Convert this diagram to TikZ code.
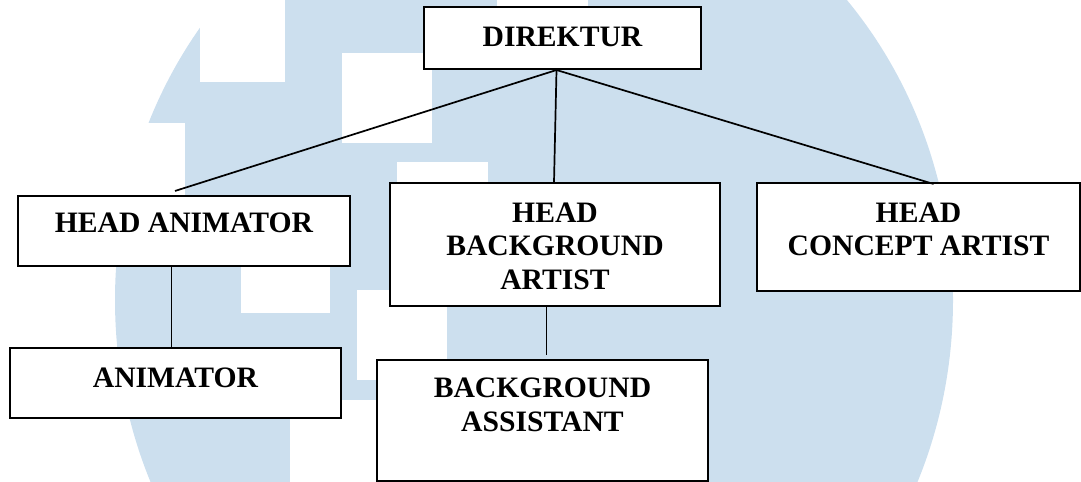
\documentclass[tikz,border=0pt]{standalone}
\usepackage{fontspec}
\setmainfont{Liberation Serif}
\usepackage{tikz}
\definecolor{umnblue}{RGB}{204,223,238}
\newcommand{\pxl}{0.4386pt}

\begin{document}
\begin{tikzpicture}[x=\pxl, y=-\pxl,
    unit/.style={draw, line width=0.9pt, fill=white, inner sep=0pt},
    boxtext/.style={font=\fontsize{13}{14.7}\selectfont\bfseries, align=center, inner sep=0pt},
    link/.style={line width=0.75pt}]
  \useasboundingbox (0,0) rectangle (1081,482);
  % watermark behind the chart
  \begin{scope}
    \clip (0,0) rectangle (1081,482);
    \fill[umnblue] (534,300) ellipse [x radius=419, y radius=451];
    \fill[white] (200,0) rectangle (285,82);
    \fill[white] (0,123) rectangle (185,240);
    \fill[white] (342,53) rectangle (432,143);
    \fill[white] (397,162) rectangle (488,200);
    \fill[white] (241,220) rectangle (330,313);
    \fill[white] (357,290) rectangle (447,380);
    \fill[white] (290,400) rectangle (700,482);
    \fill[white] (497,0) rectangle (588,30);
  \end{scope}

  \node[unit, minimum width=277*\pxl, minimum height=62*\pxl] (dir) at (562.5,38) {};
  \node[unit, minimum width=332*\pxl, minimum height=70*\pxl] (hanim) at (184,231) {};
  \node[unit, minimum width=330*\pxl, minimum height=123*\pxl] (hbg) at (555,244.5) {};
  \node[unit, minimum width=323*\pxl, minimum height=108*\pxl] (hcon) at (918.5,237) {};
  \node[unit, minimum width=331*\pxl, minimum height=70*\pxl] (anim) at (175.5,383) {};
  \node[unit, minimum width=331*\pxl, minimum height=121*\pxl] (asst) at (542.5,420.5) {};

  \node[boxtext] (dirT) at (562.5,37) {DIREKTUR};
  \node[boxtext] (hanimT) at (184,223) {HEAD ANIMATOR};
  \node[boxtext] (hbgT) at (555,246) {HEAD\\BACKGROUND\\ARTIST};
  \node[boxtext] (hconT) at (918.5,229.5) {HEAD\\CONCEPT ARTIST};
  \node[boxtext] (animT) at (175.5,378) {ANIMATOR};
  \node[boxtext] (asstT) at (542.5,405) {BACKGROUND\\ASSISTANT};

  \draw[link] ([xshift=-6*\pxl]dir.south) -- ([xshift=-9*\pxl, yshift=4*\pxl]hanim.north);
  \draw[link] ([xshift=-6*\pxl]dir.south) -- ([xshift=-1*\pxl]hbg.north);
  \draw[link] ([xshift=-6*\pxl]dir.south) -- ([xshift=15*\pxl, yshift=-2*\pxl]hcon.north);
  \draw[link] ([xshift=-4*\pxl]anim.north |- hanim.south) -- ([xshift=-4*\pxl]anim.north);
  \draw[link] ([xshift=4*\pxl]asst.north |- hbg.south) -- ([xshift=4*\pxl, yshift=4*\pxl]asst.north);
\end{tikzpicture}
\end{document}
